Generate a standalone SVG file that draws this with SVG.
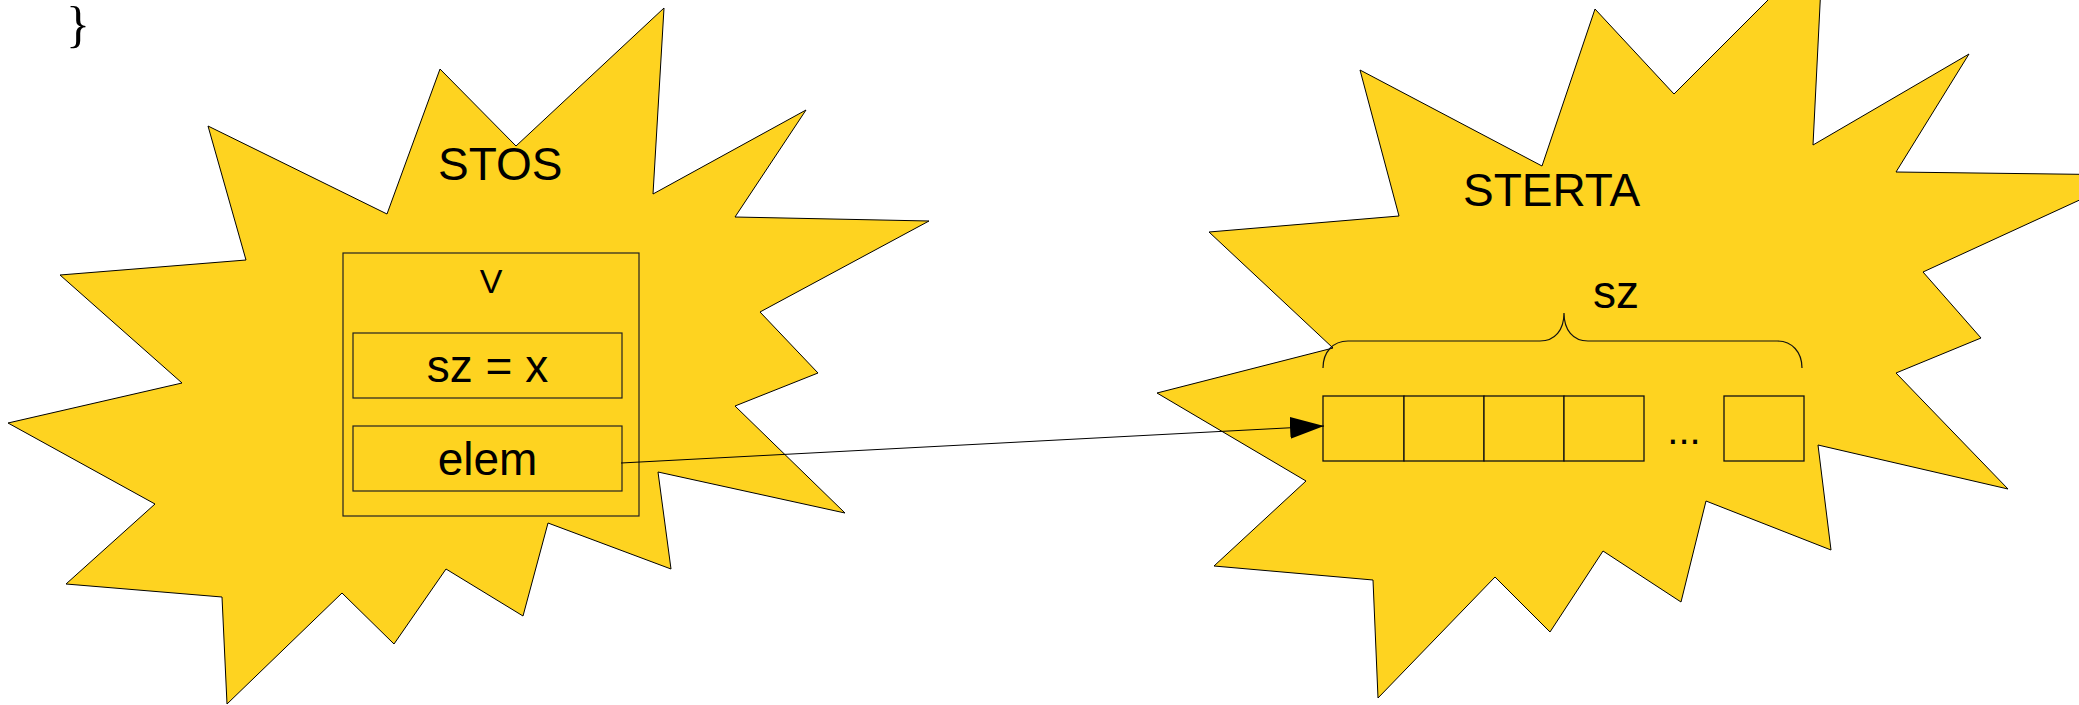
<svg xmlns="http://www.w3.org/2000/svg" width="2079" height="705" viewBox="0 0 2079 705">
<style>
.star{fill:#FED320;stroke:#000;stroke-width:1;stroke-linejoin:miter}
.box{fill:#FED320;stroke:#222;stroke-width:1.2}
.cell{fill:#FED320;stroke:#111;stroke-width:1.3}
.t{font-family:"Liberation Sans",Arial,sans-serif;fill:#000}
.brace{fill:none;stroke:#111;stroke-width:1.2}
.conn{fill:none;stroke:#000;stroke-width:1}
</style>
<defs>
<marker id="ah" markerUnits="userSpaceOnUse" markerWidth="36" markerHeight="24" refX="34" refY="11" orient="auto">
<path d="M0,0 L34,11 L0,22 Z" fill="#000"/>
</marker>
</defs>
<text class="t" x="66" y="41" style="font-family:'Liberation Serif','Times New Roman',serif;font-size:50px">}</text>
<g id="stos">
<polygon class="star" points="664,8 653,194 806,110 735,217 929,221 760,312 818,373 735,406 845,513 658,472 671,569 548,523 523,616 446,569 394,644 342,593 227,704 222,597 66,584 155,504 8,423 182,383 60,275 246,260 208,126 387,214 440,69 516,146"/>
<text class="t" x="438" y="180" style="font-size:46px">STOS</text>
</g>
<g id="v">
<rect class="box" x="343" y="253" width="296" height="263"/>
<text class="t" x="491" y="293" text-anchor="middle" style="font-size:34px">V</text>
</g>
<g id="sz-field">
<rect class="box" x="353" y="333" width="269" height="65"/>
<text class="t" x="487.5" y="382" text-anchor="middle" style="font-size:46px">sz = x</text>
</g>
<g id="elem-field">
<rect class="box" x="353" y="426" width="269" height="65"/>
<text class="t" x="487.5" y="475" text-anchor="middle" style="font-size:46px">elem</text>
</g>
<g id="sterta">
<polygon class="star" points="1595,9 1674,94 1823,-55 1813,145 1969,54 1896,172 2134,175 1923,272 1981,338 1896,373 2008,489 1818,445 1831,550 1706,501 1681,602 1603,551 1550,632 1495,577 1378,698 1373,580 1214,566 1306,481 1157,393 1333,348 1209,232 1399,216 1360,70 1542,166"/>
<text class="t" x="1463" y="206" style="font-size:46px">STERTA</text>
</g>
<g id="array">
<rect class="cell" x="1323" y="396" width="81" height="65"/>
<rect class="cell" x="1404" y="396" width="80" height="65"/>
<rect class="cell" x="1484" y="396" width="80" height="65"/>
<rect class="cell" x="1564" y="396" width="80" height="65"/>
<text class="t" x="1684" y="444" text-anchor="middle" style="font-size:40px">...</text>
<rect class="cell" x="1724" y="396" width="80" height="65"/>
</g>
<g id="size-brace">
<path class="brace" d="M1323,368 C1323,352 1333,341 1348,341 L1540,341 C1555,341 1564,330 1564,313 C1564,330 1573,341 1588,341 L1777,341 C1792,341 1802,352 1802,368"/>
<text class="t" x="1593" y="308" style="font-size:46px">sz</text>
</g>
<g id="connectors">
<path class="conn" d="M621,463 L1324,426" marker-end="url(#ah)"/>
</g>
</svg>
